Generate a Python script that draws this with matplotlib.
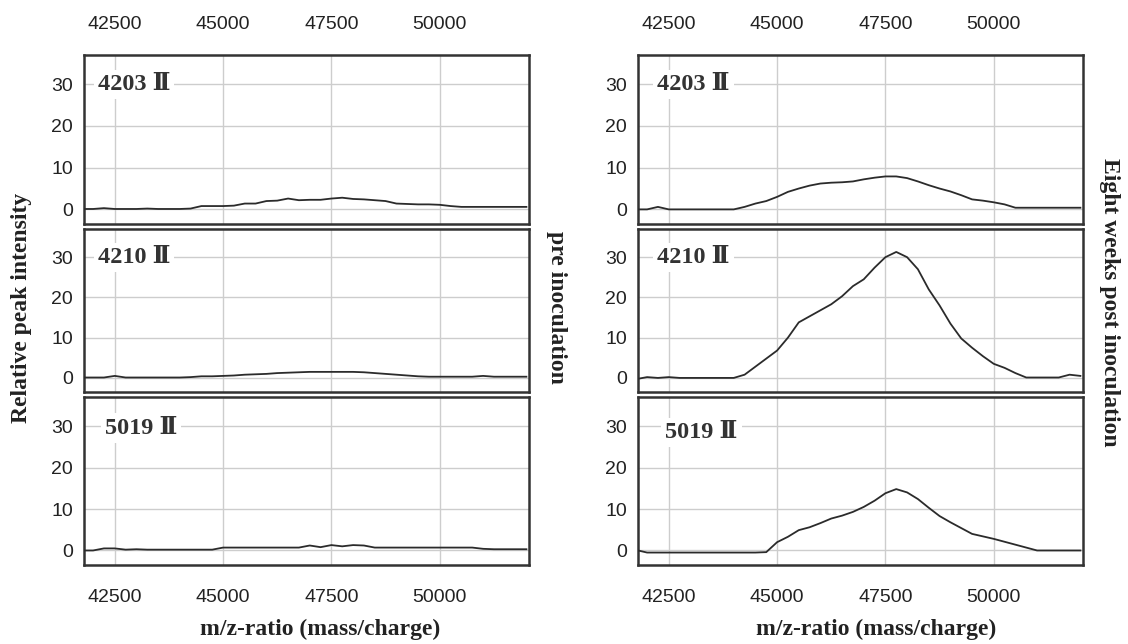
import matplotlib
matplotlib.use("Agg")
import matplotlib.pyplot as plt
import numpy as np

# m/z sampling used when reading the traces off the figure
mz = np.arange(41750, 52001, 250)

# pre inoculation (left column)
pre_4203 = [0.1, 0.1, 0.3, 0.1, 0.1, 0.1, 0.2, 0.1, 0.1, 0.1, 0.2,
            0.8, 0.8, 0.8, 0.9, 1.4, 1.4, 2.0, 2.1, 2.6, 2.2, 2.3,
            2.3, 2.6, 2.8, 2.5, 2.4, 2.2, 2.0, 1.4, 1.3, 1.2, 1.2,
            1.1, 0.8, 0.6, 0.6, 0.6, 0.6, 0.6, 0.6, 0.6]
pre_4210 = [0.1, 0.1, 0.1, 0.5, 0.1, 0.1, 0.1, 0.1, 0.1, 0.1, 0.2,
            0.4, 0.4, 0.5, 0.6, 0.8, 0.9, 1.0, 1.2, 1.3, 1.4, 1.5,
            1.5, 1.5, 1.5, 1.5, 1.4, 1.2, 1.0, 0.8, 0.6, 0.4, 0.3,
            0.3, 0.3, 0.3, 0.3, 0.5, 0.3, 0.3, 0.3, 0.3]
pre_5019 = [0.0, 0.0, 0.5, 0.5, 0.2, 0.3, 0.2, 0.2, 0.2, 0.2, 0.2,
            0.2, 0.2, 0.7, 0.7, 0.7, 0.7, 0.7, 0.7, 0.7, 0.7, 1.2,
            0.8, 1.3, 1.0, 1.3, 1.2, 0.7, 0.7, 0.7, 0.7, 0.7, 0.7,
            0.7, 0.7, 0.7, 0.7, 0.4, 0.3, 0.3, 0.3, 0.3]

# eight weeks post inoculation (right column)
post_4203 = [0.0, 0.0, 0.6, 0.0, 0.0, 0.0, 0.0, 0.0, 0.0, 0.0, 0.6,
             1.4, 2.0, 3.0, 4.2, 5.0, 5.7, 6.2, 6.4, 6.5, 6.7, 7.2,
             7.6, 7.9, 7.9, 7.5, 6.7, 5.8, 5.0, 4.3, 3.4, 2.4, 2.1,
             1.7, 1.2, 0.4, 0.4, 0.4, 0.4, 0.4, 0.4, 0.4]
post_4210 = [-0.3, 0.2, 0.0, 0.2, 0.0, 0.0, 0.0, 0.0, 0.0, 0.0, 0.8,
             2.8, 4.8, 6.8, 10.0, 13.8, 15.3, 16.8, 18.3, 20.3, 22.8, 24.5,
             27.4, 30.0, 31.3, 30.0, 27.0, 22.0, 18.0, 13.5, 9.8, 7.5, 5.4,
             3.5, 2.5, 1.2, 0.1, 0.1, 0.1, 0.1, 0.8, 0.5]
post_5019 = [0.1, -0.5, -0.5, -0.5, -0.5, -0.5, -0.5, -0.5, -0.5, -0.5, -0.5,
             -0.5, -0.4, 2.0, 3.3, 4.9, 5.6, 6.6, 7.7, 8.4, 9.3, 10.5,
             12.0, 13.8, 14.8, 14.0, 12.4, 10.3, 8.3, 6.8, 5.4, 4.0, 3.4,
             2.8, 2.1, 1.4, 0.7, 0.0, 0.0, 0.0, 0.0, 0.0]

samples = ["4203 \u2161", "4210 \u2161", "5019 \u2161"]
columns = [[pre_4203, pre_4210, pre_5019], [post_4203, post_4210, post_5019]]
xticks = [42500, 45000, 47500, 50000]
yticks = [0, 10, 20, 30]

serif = ["Liberation Serif", "DejaVu Serif"]
plt.rcParams['font.family'] = ["Liberation Sans", "DejaVu Sans"]

fig = plt.figure(figsize=(11.28, 6.44), dpi=100)

col_left = [84 / 1128, 638 / 1128]
col_width = 445 / 1128
# (bottom, height) for each row in figure fractions
rows = [(1 - 224 / 644, 169 / 644), (1 - 392 / 644, 163 / 644), (1 - 565 / 644, 168 / 644)]
label_pos = [[(0.031, 30), (0.031, 30), (0.047, 29.5)],
             [(0.043, 30), (0.043, 30), (0.061, 28.5)]]

for c in range(2):
    for r in range(3):
        ax = fig.add_axes([col_left[c], rows[r][0], col_width, rows[r][1]])
        ax.plot(mz, columns[c][r], color="#2b2b2b", lw=1.3, zorder=3)
        ax.set_xlim(41790, 52060)
        ax.set_ylim(-3.5, 37)
        ax.set_xticks(xticks)
        ax.set_yticks(yticks)
        ax.grid(True, color="#cdcdcd", lw=1.0)
        ax.set_axisbelow(True)
        for sp in ax.spines.values():
            sp.set_color("#333333")
            sp.set_linewidth(1.8)
        ax.tick_params(length=0, labelsize=14, labelcolor="#222222")
        ax.tick_params(axis="y", pad=8)
        if r == 0:
            ax.xaxis.tick_top()
            ax.tick_params(axis="x", pad=16)
        elif r == 2:
            ax.tick_params(axis="x", pad=17)
        else:
            ax.set_xticklabels([])
        lx, ly = label_pos[c][r]
        ax.text(lx, ly, samples[r], transform=ax.get_yaxis_transform(),
                family=serif, fontweight="bold", fontsize=17.5, color="#333333",
                va="center", ha="left", zorder=4,
                bbox=dict(facecolor="white", edgecolor="none", pad=3))

fig.text(0.0195, 0.522, "Relative peak intensity", rotation=90, family=serif,
         fontweight="bold", fontsize=17, ha="center", va="center", color="#222222")
fig.text(0.493, 0.522, "pre inoculation", rotation=270, family=serif,
         fontweight="bold", fontsize=17, ha="center", va="center", color="#222222")
fig.text(0.984, 0.531, "Eight weeks post inoculation", rotation=270, family=serif,
         fontweight="bold", fontsize=17, ha="center", va="center", color="#222222")
fig.text(0.284, 0.022, "m/z-ratio (mass/charge)", family=serif,
         fontweight="bold", fontsize=17, ha="center", va="center", color="#222222")
fig.text(0.777, 0.022, "m/z-ratio (mass/charge)", family=serif,
         fontweight="bold", fontsize=17, ha="center", va="center", color="#222222")

fig.savefig("out.png", dpi=100)
